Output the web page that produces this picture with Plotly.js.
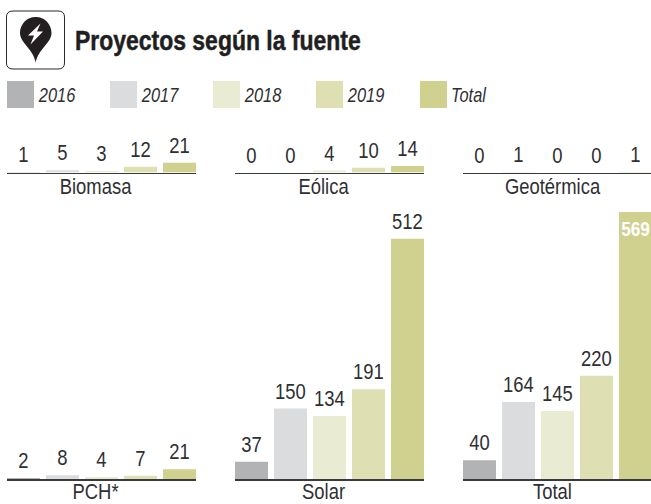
<!DOCTYPE html>
<html><head><meta charset="utf-8">
<script src="https://cdn.plot.ly/plotly-3.0.1.min.js"></script>
<style>html,body{margin:0;padding:0;background:#fff}#c{width:651px;height:504px}</style>
</head><body><div id="c"></div>
<script>
const seriesNames = ['2016','2017','2018','2019','Total'];
const colors = ['#b1b3b5','#dbdcde','#e9ebd3','#dfdfb4','#d0d08f'];
const biomasa = [1,5,3,12,21];
const eolica = [0,0,4,10,14];
const geotermica = [0,1,0,0,1];
const pch = [2,8,4,7,21];
const solar = [37,150,134,191,512];
const total = [40,164,145,220,569];
const panels = [
  {name:'Biomasa', values:biomasa, left:7, row:0},
  {name:'Eólica', values:eolica, left:235, row:0},
  {name:'Geotérmica', values:geotermica, left:463, row:0},
  {name:'PCH*', values:pch, left:7, row:1},
  {name:'Solar', values:solar, left:235, row:1},
  {name:'Total', values:total, left:463, row:1}
];
const W=651,H=504, FONT='"Liberation Sans",sans-serif', INK='#2f2f31', NARROW=0.82;
const px=x=>x/W, py=y=>1-y/H;
const rows=[{top:125,base:172.5,max:101.3},{top:212,base:479,max:569}];
const layout={width:W,height:H,margin:{l:0,r:0,t:0,b:0},paper_bgcolor:'#fff',plot_bgcolor:'rgba(0,0,0,0)',
  showlegend:false,bargap:0.154,font:{family:FONT,color:INK,size:22},
  title:{text:'<b>Proyectos según la fuente</b>',x:75/W,xanchor:'left',y:py(40),yanchor:'middle',font:{family:FONT,size:28,color:'#1f1f21'}},
  shapes:[],annotations:[]};
const traces=[];
panels.forEach((p,i)=>{
  const k=i?i+1:'', r=rows[p.row];
  const right=Math.min(p.left+189,W);
  layout['xaxis'+k]={domain:[px(p.left),px(right)],range:[-0.423,-0.423+(right-p.left)/39],anchor:'y'+k,
    type:'linear',showgrid:false,zeroline:false,showticklabels:false,ticks:'',showline:true,linecolor:'#3a3a3c',linewidth:1.5,
    title:{text:p.name,standoff:p.row?9:5,font:{family:FONT,size:22.5,color:INK}},fixedrange:true};
  layout['yaxis'+k]={domain:[py(r.base),py(r.top)],range:[0,r.max],anchor:'x'+k,visible:false,fixedrange:true};
  const isTop=p.values.map(v=>v>=569);
  traces.push({type:'bar',xaxis:'x'+(k),yaxis:'y'+(k),x:[0,1,2,3,4],y:p.values,
    marker:{color:colors,line:{width:0}},text:p.values.map(String),
    textposition:isTop.map(t=>t?'inside':'outside'),insidetextanchor:'end',
    textangle:0,constraintext:'none',cliponaxis:false,hoverinfo:'skip',
    textfont:{family:FONT,size:isTop.map(t=>t?21:22.5),color:isTop.map(t=>t?'#ffffff':INK),weight:isTop.map(t=>t?700:400)}});
});
// legend
const legendX=[7,110,213,316,420];
seriesNames.forEach((n,i)=>{
  layout.shapes.push({type:'rect',xref:'paper',yref:'paper',x0:px(legendX[i]),x1:px(legendX[i]+27),y0:py(108),y1:py(81),fillcolor:colors[i],line:{width:0}});
  layout.annotations.push({xref:'paper',yref:'paper',x:px(legendX[i]+29),y:py(95),xanchor:'left',yanchor:'middle',showarrow:false,
    text:'<i>'+n+'</i>',font:{family:FONT,size:20,color:INK}});
});
// icon
const P=(x,y)=>px(x).toFixed(5)+','+py(y).toFixed(5);
layout.shapes.push({type:'path',xref:'paper',yref:'paper',line:{color:'#2a2a2c',width:1},fillcolor:'#fff',
  path:'M'+P(13,11)+' L'+P(58,11)+' Q'+P(64.5,11)+' '+P(64.5,17)+' L'+P(64.5,63)+' Q'+P(64.5,69)+' '+P(58,69)+' L'+P(13,69)+' Q'+P(6.5,69)+' '+P(6.5,63)+' L'+P(6.5,17)+' Q'+P(6.5,11)+' '+P(13,11)+' Z'});
layout.shapes.push({type:'path',xref:'paper',yref:'paper',line:{width:0},fillcolor:'#231f20',
  path:'M'+P(35.7,17)+' C'+P(45,17)+' '+P(51.5,24.5)+' '+P(51.5,33)+' C'+P(51.5,43)+' '+P(38,49)+' '+P(35.7,62.7)+' C'+P(33.5,49)+' '+P(20,43)+' '+P(20,33)+' C'+P(20,24.5)+' '+P(26.5,17)+' '+P(35.7,17)+' Z'});
layout.shapes.push({type:'path',xref:'paper',yref:'paper',line:{width:0},fillcolor:'#fff',
  path:'M'+P(40.5,23.5)+' L'+P(28,35.5)+' L'+P(34,35.5)+' L'+P(30.5,44.5)+' L'+P(43,31.5)+' L'+P(37,31.5)+' Z'});
// No condensed face is installed: narrow each real text element horizontally after drawing.
function narrow(el,fromLeft,dy,dx){
  const b=el.getBBox(), ox=fromLeft?b.x:b.x+b.width/2, t=el.getAttribute('transform')||'';
  el.setAttribute('transform','translate('+(dx||0)+' '+(dy||0)+') '+t+' translate('+ox+' 0) scale('+NARROW+' 1) translate('+(-ox)+' 0)');
}
Plotly.newPlot('c',traces,layout,{displayModeBar:false,staticPlot:true}).then(gd=>{
  gd.querySelectorAll('text.bartext').forEach(el=>narrow(el,false,el.textContent==='569'?2:-2,0));
  gd.querySelectorAll('text').forEach(el=>{
    if(/(^|\s)x\d*title(\s|$)/.test(el.getAttribute('class')||'')){
      const b=el.getBBox();
      const dx=b.x+b.width/2>500?-4.5:-6;
      narrow(el,false,0,dx);
    }
  });
  gd.querySelectorAll('.annotation-text').forEach(el=>narrow(el,true,0,0));
  gd.querySelectorAll('.gtitle').forEach(el=>{narrow(el,true,0,0);el.style.stroke='#1f1f21';el.style.strokeWidth='0.5px';});
});
</script></body></html>
